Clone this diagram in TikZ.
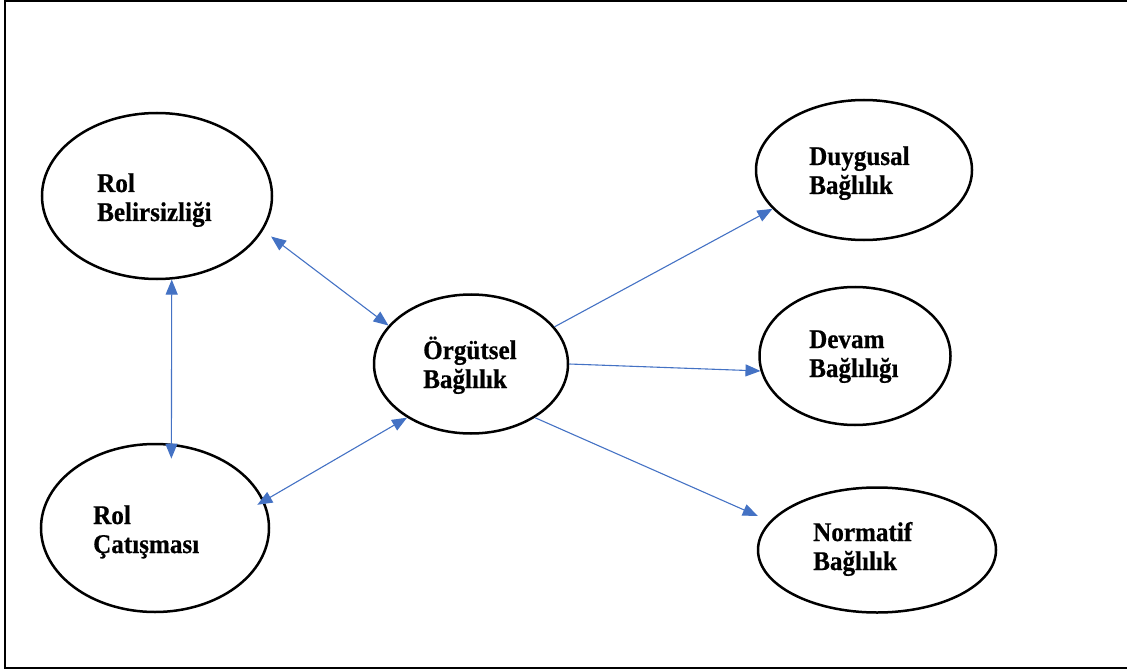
\documentclass[tikz,border=0pt]{standalone}
\usepackage{fontspec}
\setmainfont{Liberation Serif}
\newfontfamily\lblfont{Liberation Serif}[FakeStretch=0.93,FakeBold=0.6]
\usetikzlibrary{shapes.geometric,arrows.meta}
\definecolor{arrowblue}{HTML}{4472C4}
\begin{document}
\begin{tikzpicture}[x=1bp,y=-1bp,
  ell/.style={draw=black,line width=2.5bp,ellipse,inner sep=0pt},
  lbl/.style={anchor=base west,align=left,inner sep=0pt,
    font=\lblfont\fontsize{27bp}{29bp}\selectfont\bfseries},
  conn/.style={draw=arrowblue,line width=1.1bp},
  onetip/.style={-{Triangle[length=15bp,width=12bp]}},
  twotip/.style={{Triangle[length=15bp,width=12bp]}-{Triangle[length=15bp,width=12bp]}}]
\useasboundingbox (0,0) rectangle (1127,670);
\draw[line width=2bp] (4.5,1.5) rectangle (1140,667.5);
% ellipses
\node[ell,minimum width=230bp,minimum height=166bp] (rb) at (157,196) {};
\node[ell,minimum width=228bp,minimum height=168bp] (rc) at (155,528) {};
\node[ell,minimum width=194bp,minimum height=139bp] (og) at (471,364) {};
\node[ell,minimum width=216bp,minimum height=140bp] (dy) at (864,170) {};
\node[ell,minimum width=191bp,minimum height=138bp] (dv) at (855,356) {};
\node[ell,minimum width=238bp,minimum height=125bp] (nm) at (877,550) {};
% labels (anchor: baseline of the last line)
\node[lbl] (trb) at (97,221) {Rol\\Belirsizliği};
\node[lbl] (trc) at (93,553) {Rol\\Çatışması};
\node[lbl] (tog) at (423,388) {Örgütsel\\Bağlılık};
\node[lbl] (tdy) at (809,194) {Duygusal\\Bağlılık};
\node[lbl] (tdv) at (809,377) {Devam\\Bağlılığı};
\node[lbl] (tnm) at (813,570) {Normatif\\Bağlılık};
% connectors
\draw[conn,twotip,shorten <=10bp] (rb.-18) -- (og.155);
\draw[conn,twotip,shorten >=-15bp] (rb.-80) -- (rc.79);
\draw[conn,twotip,shorten <=-8bp] (rc.14) -- (og.-140);
\draw[conn,onetip] (og.24) -- (dy.-157);
\draw[conn,onetip] (og.0) -- (dv.-171);
\draw[conn,onetip,shorten >=13bp] (og.-40) -- (nm.165);
\end{tikzpicture}
\end{document}
